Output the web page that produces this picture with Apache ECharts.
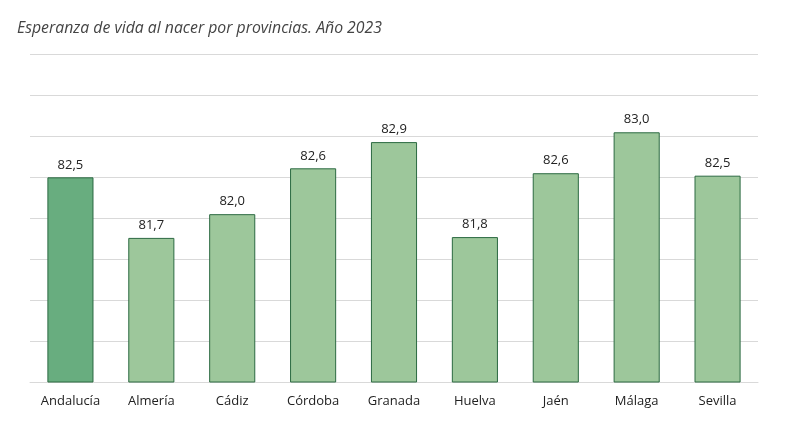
<!DOCTYPE html>
<html><head><meta charset="utf-8">
<script src="https://cdn.jsdelivr.net/npm/echarts@6/dist/echarts.min.js"></script>
<style>html,body{margin:0;padding:0;background:#fff}#c{width:795px;height:425px}</style>
</head><body><div id="c"></div>
<script>
const categories = ['Andalucía','Almería','Cádiz','Córdoba','Granada','Huelva','Jaén','Málaga','Sevilla'];
const values = [82.50, 81.76, 82.05, 82.61, 82.93, 81.77, 82.55, 83.05, 82.52];
const valueLabels = ['82,5','81,7','82,0','82,6','82,9','81,8','82,6','83,0','82,5'];
const chart = echarts.init(document.getElementById('c'));
chart.setOption({
  animation:false,
  title:{text:'Esperanza de vida al nacer por provincias. Año 2023',left:12,top:15,
    textStyle:{fontFamily:'Open Sans',fontStyle:'italic',fontWeight:'normal',fontSize:15.8,color:'#444'}},
  grid:{left:30,right:37,top:54.5,bottom:43,containLabel:false},
  xAxis:{type:'category',data:categories,
    axisLine:{lineStyle:{color:'#d9d9d9'}},axisTick:{show:false},
    axisLabel:{fontFamily:'Open Sans',fontSize:13,color:'#222',margin:13}},
  yAxis:{type:'value',min:80,max:84,interval:0.5,
    axisLabel:{show:false},axisLine:{show:false},axisTick:{show:false},
    splitLine:{lineStyle:{color:'#d9d9d9',width:1}}},
  series:[{type:'bar',barWidth:'57%',
    data:values.map((v,i)=>({value:v,itemStyle:{color:i===0?'#68ad7f':'#9dc79b'}})),
    itemStyle:{borderColor:'#2c6a42',borderWidth:1},
    label:{show:true,position:'top',distance:6,fontFamily:'Open Sans',fontSize:13,color:'#222',
      formatter:p=>valueLabels[p.dataIndex]}}]
});
</script></body></html>
